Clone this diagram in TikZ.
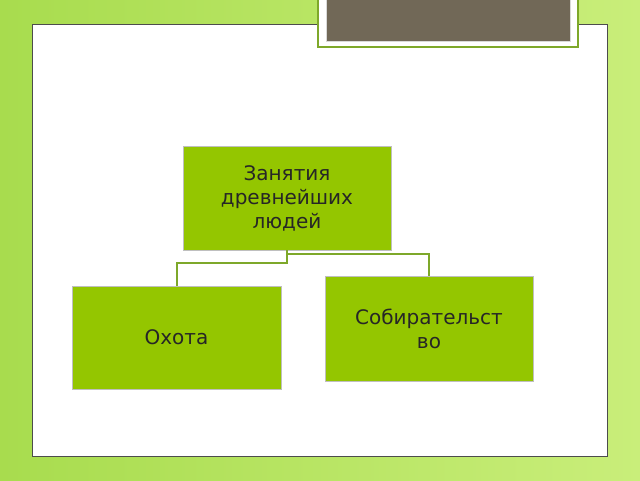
\documentclass[tikz,border=0pt]{standalone}
\usepackage{fontspec}
\setmainfont{DejaVu Sans}
\begin{document}
\begin{tikzpicture}[x=1pt,y=-1pt,
  box/.style={draw=black!25,fill=boxgreen,align=center,inner sep=0pt,font=\fontsize{20}{24}\selectfont,text=black!85},
  conn/.style={draw=linegreen,line width=2pt}]
\definecolor{boxgreen}{HTML}{94C600}
\definecolor{linegreen}{HTML}{7EA82A}
\definecolor{bgA}{HTML}{C9EE7A}
\definecolor{bgB}{HTML}{A8DC4E}
\definecolor{panelgray}{HTML}{716857}
\useasboundingbox (0,0) rectangle (640,480);
\shade[left color=bgB,right color=bgA] (0,0) rectangle (640,480);
\fill[white] (32,24) rectangle (607,456);
\draw[black!70,line width=0.8pt] (32,24) rectangle (607,456);
\fill[white,draw=linegreen,line width=1.2pt] (318,-2) rectangle (578,47);
\fill[panelgray,draw=black!15] (326,-2) rectangle (570,41);
\node[box,minimum width=208,minimum height=104] (top) at (287,198) {Занятия\\древнейших\\людей};
\node[box,minimum width=209,minimum height=103] (left) at (176.5,337.5) {Охота};
\node[box,minimum width=208,minimum height=105] (right) at (429,328.5) {Собирательст\\во};
\coordinate (j1) at (287,263);
\coordinate (j2) at (287,254);
\draw[conn] (top.south) -- (j1) -| (left.north);
\draw[conn] (j2) -| (right.north);
\end{tikzpicture}
\end{document}
